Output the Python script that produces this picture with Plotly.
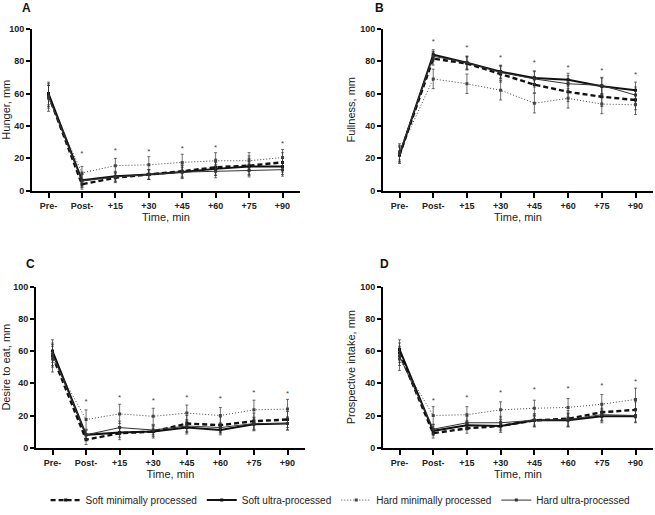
import plotly.graph_objects as go

W, H = 655, 515

# ---------------- data ----------------
time_labels = ["Pre-", "Post-", "+15", "+30", "+45", "+60", "+75", "+90"]
series_names = ["Soft minimally processed", "Soft ultra-processed",
                "Hard minimally processed", "Hard ultra-processed"]

# A - Hunger
hunger_smp = [59, 4, 8, 10, 12, 14.5, 15.5, 17.5]
hunger_sup = [60, 6.5, 9, 10, 11.5, 13.5, 15, 15]
hunger_hmp = [57, 11, 15.5, 16, 17.5, 18.5, 18.5, 20.5]
hunger_hup = [58, 6, 8.5, 10, 11.5, 12, 12.5, 13]
hunger_err = [[7, 3, 3, 3, 4, 5, 6, 6], [7, 4, 3, 3, 4, 4, 5, 5],
              [8, 4, 4.5, 5, 5, 5, 5, 5], [7, 4, 3, 3, 3, 4, 4, 4]]
hunger_star = [None, 22.4, 24.7, 23.7, 25.7, 26.1, None, 28.8]

# B - Fullness
fullness_smp = [22, 81.5, 78.5, 72, 65.5, 61, 58, 56]
fullness_sup = [22, 84, 79, 73.5, 69.5, 68.5, 64.5, 62]
fullness_hmp = [24, 69, 66, 62, 54, 57, 53.5, 53]
fullness_hup = [23, 83, 79, 73, 69, 66, 65, 59]
fullness_err = [[5, 4, 4, 5, 5, 6, 6, 6], [5, 3, 4, 4, 4, 4, 5, 5],
                [5, 6, 6, 6, 6, 6, 6, 6], [5, 3, 4, 4, 5, 5, 5, 5]]
fullness_star = [None, 91.8, 88, 81.6, 78.8, 76, 73.7, 71.6]

# C - Desire to eat
desire_smp = [57, 5, 9, 10, 15, 14, 16.5, 17.5]
desire_sup = [60, 8, 9.5, 10, 12.5, 11, 14.5, 15]
desire_hmp = [55, 17.5, 21, 19.5, 21.5, 20, 23.5, 24]
desire_hup = [58, 8, 12.5, 11, 13.5, 12.5, 15, 15]
desire_err = [[7, 3, 4, 4, 5, 5, 5, 5], [7, 3, 3, 3, 4, 3, 4, 4],
              [8, 6, 6, 5, 5, 5, 6, 6], [7, 3, 4, 3, 4, 3, 4, 4]]
desire_star = [None, 28.6, 30.6, 29.2, 31, 30.2, 34, 33.3]

# D - Prospective intake
intake_smp = [59, 9, 12, 13.5, 17, 18, 22, 23.5]
intake_sup = [61, 10.5, 14, 13.5, 17, 17, 19.5, 19.5]
intake_hmp = [55, 20, 20.5, 23.5, 24.5, 25, 27, 30]
intake_hup = [57, 11.5, 15.5, 15.5, 17, 17.5, 20.5, 20]
intake_err = [[6, 3, 3, 4, 4, 5, 5, 5], [6, 3, 3, 3, 3, 4, 4, 4],
              [7, 5.5, 5, 5, 5, 5.5, 6, 7], [6, 3, 4, 4, 4, 4, 4, 4]]
intake_star = [None, 29.2, 30.8, 33.9, 35.7, 36.3, 38.4, 40.8]

panels = [
    ("A", "Hunger, mm", [hunger_smp, hunger_sup, hunger_hmp, hunger_hup], hunger_err, hunger_star),
    ("B", "Fullness, mm", [fullness_smp, fullness_sup, fullness_hmp, fullness_hup], fullness_err, fullness_star),
    ("C", "Desire to eat, mm", [desire_smp, desire_sup, desire_hmp, desire_hup], desire_err, desire_star),
    ("D", "Prospective intake, mm", [intake_smp, intake_sup, intake_hmp, intake_hup], intake_err, intake_star),
]

# ---------------- styles ----------------
FONT = "Liberation Sans, Arial, sans-serif"
styles = [
    dict(color="#111", width=2.4, dash="5px,3px"),
    dict(color="#111", width=2.0, dash="solid"),
    dict(color="#444", width=1.0, dash="1px,2px"),
    dict(color="#333", width=1.0, dash="solid"),
]

# pixel boxes: (x_left, x_right, y_top(100), y_bottom(0)), letter position
boxes = [
    ((32, 300, 29, 193), (20, 8)),
    ((383, 653, 29, 193), (373, 8)),
    ((36, 305, 290, 453), (24, 267)),
    ((383, 653, 290, 453), (378, 267)),
]

fig = go.Figure()
annotations = []

for i, (letter, ytitle, series, errs, stars) in enumerate(panels):
    n = "" if i == 0 else str(i + 1)
    (xl, xr, yt, yb), (lx, ly) = boxes[i]
    xs = list(range(len(time_labels)))
    for k, ys in enumerate(series):
        st = styles[k]
        fig.add_trace(go.Scatter(
            x=xs, y=ys, mode="lines+markers", name=series_names[k],
            showlegend=(i == 0), legendgroup=series_names[k],
            line=dict(color=st["color"], width=st["width"], dash=st["dash"]),
            marker=dict(symbol="square", size=3, color=st["color"]),
            error_y=dict(type="data", array=errs[k], thickness=0.7, width=1.5, color="#333"),
            xaxis="x" + n, yaxis="y" + n,
        ))
    fig.add_trace(go.Scatter(
        x=xs, y=stars, mode="text", text=["*"] * len(xs), showlegend=False,
        textfont=dict(size=8, color="#444", family=FONT),
        xaxis="x" + n, yaxis="y" + n, hoverinfo="skip",
    ))

    # axis range from pixel geometry (category spacing)
    first_tick = xl + 16.5
    last_tick = xr - 17.5
    step = (last_tick - first_tick) / 7
    x_range = [-(first_tick - xl) / step, 7 + (xr - last_tick) / step]

    fig.layout["xaxis" + n] = dict(
        domain=[xl / W, xr / W], anchor="y" + n, range=x_range, automargin=False,
        tickvals=xs, ticktext=time_labels,
        showline=True, linecolor="black", linewidth=2,
        ticks="outside", ticklen=5, tickwidth=2, tickcolor="black",
        showgrid=False, zeroline=False,
        tickfont=dict(family=FONT, size=9, color="#222", weight="bold"),
        title=dict(text="Time, min", font=dict(family=FONT, size=11, color="#222", weight="normal"),
                   standoff=0),
    )
    fig.layout["yaxis" + n] = dict(
        domain=[1 - yb / H, 1 - yt / H], anchor="x" + n, range=[0, 100], automargin=False,
        tickvals=[0, 20, 40, 60, 80, 100],
        showline=True, linecolor="black", linewidth=2,
        ticks="outside", ticklen=4, tickwidth=2, tickcolor="black",
        showgrid=False, zeroline=False,
        tickfont=dict(family=FONT, size=9, color="#222", weight="bold"),
        title=dict(text=ytitle, font=dict(family=FONT, size=11, color="#222", weight="normal"),
                   standoff=2),
    )
    annotations.append(dict(
        text="<b>" + letter + "</b>", x=lx / W, y=1 - ly / H, xref="paper", yref="paper",
        xanchor="left", yanchor="middle", showarrow=False,
        font=dict(family=FONT, size=12, color="#111"),
    ))

fig.update_layout(
    width=W, height=H,
    margin=dict(l=0, r=0, t=0, b=0),
    paper_bgcolor="white", plot_bgcolor="white",
    annotations=annotations,
    legend=dict(
        orientation="h", x=0.52, xanchor="center", y=1 - 506 / H, yanchor="middle",
        font=dict(family=FONT, size=10, color="#222"),
        itemwidth=30, tracegroupgap=0,
    ),
    font=dict(family=FONT),
)

# page body has a default 8px margin; drop it so the figure sits at (0, 0)
fig.write_html("out.html", config={"displayModeBar": False},
               post_script="document.body.style.margin='0';")
